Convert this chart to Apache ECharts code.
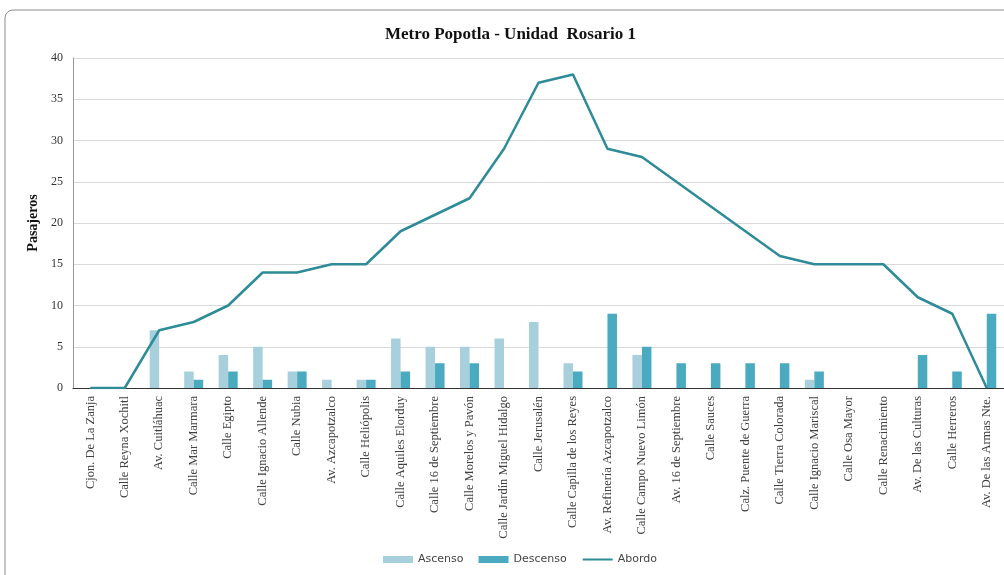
<!DOCTYPE html>
<html><head><meta charset="utf-8">
<script src="https://cdn.jsdelivr.net/npm/echarts@6/dist/echarts.min.js"></script>
<style>html,body{margin:0;padding:0;background:#fff}#c{width:1004px;height:575px}</style>
</head><body><div id="c"></div>
<script>
const categories = ["Cjon. De La Zanja","Calle Reyna Xochitl","Av. Cuitláhuac","Calle Mar Marmara","Calle Egipto","Calle Ignacio Allende","Calle Nubia","Av. Azcapotzalco","Calle Heliópolis","Calle Aquiles Elorduy","Calle 16 de Septiembre","Calle Morelos y Pavón","Calle Jardín Miguel Hidalgo","Calle Jerusalén","Calle Capilla de los Reyes","Av. Refinería Azcapotzalco","Calle Campo Nuevo Limón","Av. 16 de Septiembre","Calle Sauces","Calz. Puente de Guerra","Calle Tierra Colorada","Calle Ignacio Mariscal","Calle Osa Mayor","Calle Renacimiento","Av. De las Culturas","Calle Herreros","Av. De las Armas Nte."];
const ascenso = [0,0,7,2,4,5,2,1,1,6,5,5,6,8,3,0,4,0,0,0,0,1,0,0,0,0,0];
const descenso = [0,0,0,1,2,1,2,0,1,2,3,3,0,0,2,9,5,3,3,3,3,2,0,0,4,2,9];
const abordo = [0,0,7,8,10,14,14,15,15,19,21,23,29,37,38,29,28,25,22,19,16,15,15,15,11,9,0];
const yTicks = [0,5,10,15,20,25,30,35,40];

const chart = echarts.init(document.getElementById('c'));
chart.setOption({
  animation:false,
  backgroundColor:'#fff',
  graphic:[{type:'rect',shape:{x:5,y:10,width:1010,height:580,r:8},style:{fill:'none',stroke:'#8c8c8c',lineWidth:1}}],
  title:{text:'Metro Popotla - Unidad  Rosario 1',left:380,top:21,textStyle:{fontFamily:'Liberation Serif',fontWeight:'bold',fontSize:17,color:'#111'}},
  legend:{bottom:5,left:378,itemWidth:30,itemHeight:7,itemGap:15,textStyle:{fontFamily:'DejaVu Sans',fontSize:11,color:'#444'},
    data:[{name:'Ascenso',icon:'rect'},{name:'Descenso',icon:'rect'},{name:'Abordo',itemStyle:{opacity:0}}]},
  grid:{left:73,right:-1,top:58,bottom:187,containLabel:false},
  xAxis:{type:'category',data:categories,
    axisLine:{lineStyle:{color:'#333',width:1}},axisTick:{show:false},
    axisLabel:{rotate:90,interval:0,margin:8,fontFamily:'Liberation Serif',fontSize:12.5,color:'#404040'}},
  yAxis:{type:'value',min:0,max:40,interval:5,name:'Pasajeros',nameLocation:'middle',nameGap:26,
    nameTextStyle:{fontFamily:'Liberation Serif',fontWeight:'bold',fontSize:14,color:'#111'},
    axisLine:{show:true,lineStyle:{color:'#999'}},axisTick:{show:false},
    axisLabel:{fontFamily:'Liberation Serif',fontSize:12,color:'#333',margin:10,formatter:v=>yTicks.includes(v)?String(v):''},
    splitLine:{lineStyle:{color:'#d9d9d9'}}},
  series:[
    {name:'Ascenso',type:'bar',data:ascenso,barWidth:9.5,barGap:'0%',itemStyle:{color:'#a8cfdc'}},
    {name:'Descenso',type:'bar',data:descenso,barWidth:9.5,itemStyle:{color:'#4aaabf'}},
    {name:'Abordo',type:'line',data:abordo,symbol:'none',lineStyle:{color:'#2e8b98',width:2.5},itemStyle:{color:'#2e8b98'}}
  ]
});
</script></body></html>
